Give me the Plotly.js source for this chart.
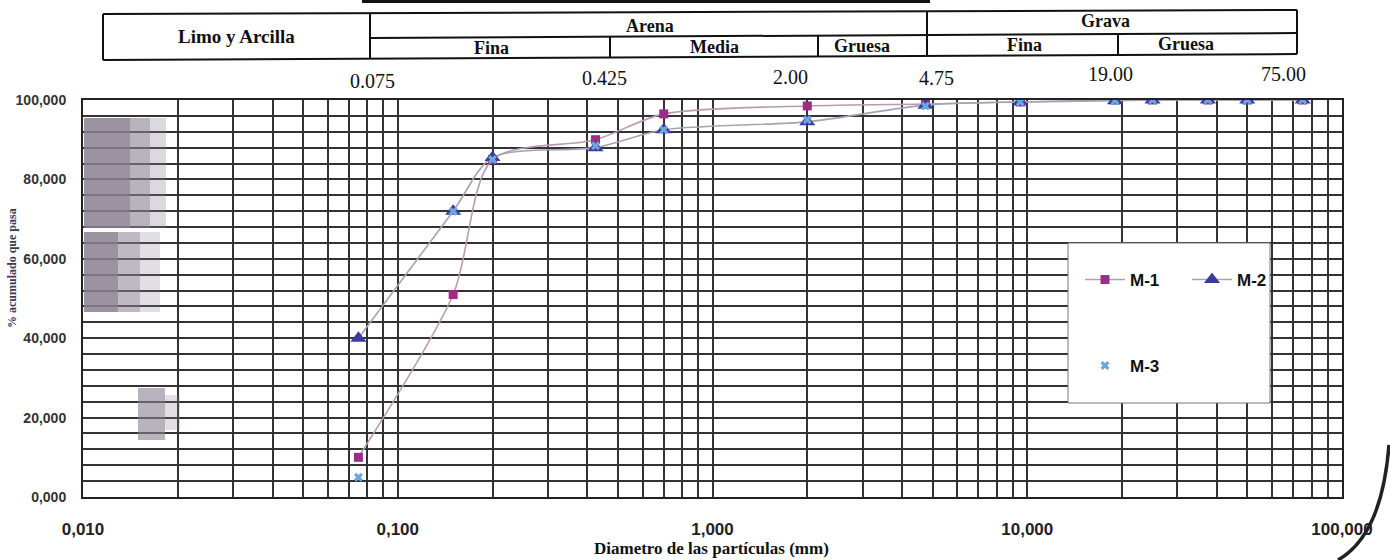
<!DOCTYPE html>
<html><head><meta charset="utf-8">
<script src="https://cdn.plot.ly/plotly-3.0.1.min.js"></script>
<style>html,body{margin:0;padding:0;background:#fff}#chart{width:1390px;height:560px}</style>
</head><body><div id="chart"></div>
<script>
// ---- data ----
const sieveSizes = [0.075, 0.15, 0.2, 0.425, 0.7, 2.0, 4.75, 9.5, 19, 25, 37.5, 50, 75];
const m1 = [10, 51, 85, 90, 96.5, 98.5, 99, 99.5, 100, 100, 100, 100, 100];
const m2 = [40, 72, 85.5, 88, 92.5, 94.5, 98.7, 99.5, 99.8, 100, 100, 100, 100];
const m3 = [5, 72, 85, 88.5, 92.5, 95, 98.5, 99.5, 99.8, 100, 100, 100, 100];
const xTickVals = [0.01, 0.1, 1, 10, 100];
const xTickText = ['0,010', '0,100', '1,000', '10,000', '100,000'];
const yTickVals = [0, 20, 40, 60, 80, 100];
const yTickText = ['0,000', '20,000', '40,000', '60,000', '80,000', '100,000'];
const headerGroups = ['Limo y Arcilla', 'Arena', 'Grava'];
const headerSub = ['Fina', 'Media', 'Gruesa', 'Fina', 'Gruesa'];
const boundaryLabels = ['0.075', '0.425', '2.00', '4.75', '19.00', '75.00'];
const seriesNames = ['M-1', 'M-2', 'M-3'];
const xTitle = 'Diametro de las partículas (mm)';
const yTitle = '% acumulado que pasa';

// ---- layout helpers (pixel -> paper) ----
const L = 83, R = 48, T = 100, B = 63, W = 1390, H = 560;
const PW = W - L - R, PH = H - T - B;
const px = p => (p - L) / PW;
const py = p => (H - B - p) / PH;

// grid values: 1..9 per decade
const xGrid = [];
for (let d = 0.01; d < 99; d *= 10) for (let k = 1; k <= 9; k++) xGrid.push(+(k * d).toPrecision(3));
xGrid.push(100);
const xGridText = xGrid.map(v => {
  const i = xTickVals.findIndex(t => Math.abs(t - v) / t < 1e-6);
  return i >= 0 ? xTickText[i] : '';
});
const yGrid = [];
for (let v = 0; v <= 100; v += 4) yGrid.push(v);
const yGridText = yGrid.map(v => { const i = yTickVals.indexOf(v); return i >= 0 ? yTickText[i] : ''; });

const sans = 'Liberation Sans, Arial, sans-serif';
const serif = 'Liberation Serif, Times New Roman, serif';
const gridCol = '#333333';

const traces = [
  { x: sieveSizes, y: m1, name: seriesNames[0], type: 'scatter', mode: 'lines+markers',
    line: { shape: 'spline', smoothing: 0.8, color: '#b99ab2', width: 1.6 },
    marker: { symbol: 'square', size: 9, color: '#9a2d86' }, legend: 'legend' },
  { x: sieveSizes, y: m2, name: seriesNames[1], type: 'scatter', mode: 'lines+markers',
    line: { shape: 'spline', smoothing: 0.8, color: '#a3a3b6', width: 1.6 },
    marker: { symbol: 'triangle-up', size: 14, color: '#3b3c9a' }, legend: 'legend' },
  { x: sieveSizes, y: m3, name: seriesNames[2], type: 'scatter', mode: 'markers',
    marker: { symbol: 'x', size: 8, color: '#6ea6dc' }, legend: 'legend2' }
];

// header geometry (pixels)
const yTop = x => 14 - (x - 103) * 4 / 1194;
const yMid = x => 38 - (x - 370) * 5 / 927;
const yBot = x => 60 - (x - 103) * 6 / 1194;
const seg = (x0, y0, x1, y1, w) => ({ type: 'line', xref: 'paper', yref: 'paper',
  x0: px(x0), y0: py(y0), x1: px(x1), y1: py(y1), line: { color: '#111', width: w || 2 } });
const noise = (x0, x1, y0, y1, op) => ({ type: 'rect', xref: 'paper', yref: 'paper', layer: 'above',
  x0: px(x0), x1: px(x1), y0: py(y0), y1: py(y1), fillcolor: '#8a8092', opacity: op, line: { width: 0 } });

const pp = (x, y) => px(x) + ',' + py(y);
const shapes = [
  // scan noise blocks on the left
  noise(84, 130, 118, 228, 0.85), noise(130, 150, 118, 228, 0.6), noise(150, 166, 118, 228, 0.3),
  noise(84, 118, 232, 312, 0.85), noise(118, 140, 232, 312, 0.55), noise(140, 160, 232, 312, 0.25),
  noise(138, 165, 388, 440, 0.6), noise(165, 180, 395, 430, 0.25),
  // header table
  seg(103, yTop(103), 1297, yTop(1297)),
  seg(370, yMid(370), 1297, yMid(1297)),
  seg(103, yBot(103), 1297, yBot(1297)),
  seg(103, yTop(103), 103, yBot(103)),
  seg(370, yTop(370), 370, yBot(370)),
  seg(610, yMid(610), 610, yBot(610)),
  seg(818, yMid(818), 818, yBot(818)),
  seg(927, yTop(927), 927, yBot(927)),
  seg(1118, yMid(1118), 1118, yBot(1118)),
  seg(1297, yTop(1297), 1297, yBot(1297)),
  // page border fragments from the scan
  seg(362, 1.5, 930, 1.5, 3),
  { type: 'path', xref: 'paper', yref: 'paper',
    path: 'M' + pp(1389, 445) + ' Q' + pp(1382, 535) + ' ' + pp(1338, 560),
    line: { color: '#222', width: 3.5 } },
  // legend box
  { type: 'rect', xref: 'paper', yref: 'paper', x0: px(1068), x1: px(1270), y0: py(243), y1: py(403),
    fillcolor: '#ffffff', line: { color: '#777', width: 1 }, layer: 'above' }
];

const ann = (x, y, text, size, opts) => Object.assign({ xref: 'paper', yref: 'paper', x: px(x), y: py(y),
  text, showarrow: false, xanchor: 'center', yanchor: 'middle',
  font: { family: serif, size: size, color: '#111' } }, opts || {});
const bold = (size) => ({ font: { family: serif, size: size, color: '#111', weight: 'bold' } });

const annotations = [
  ann(236, 37, headerGroups[0], 19, bold(19)),
  ann(650, 26, headerGroups[1], 18, bold(18)),
  ann(1105, 21, headerGroups[2], 18, bold(18)),
  ann(492, 48, headerSub[0], 18, bold(18)),
  ann(714, 47, headerSub[1], 18, bold(18)),
  ann(862, 46, headerSub[2], 18, bold(18)),
  ann(1024, 45, headerSub[3], 18, bold(18)),
  ann(1186, 44, headerSub[4], 18, bold(18)),
  ann(372, 81, boundaryLabels[0], 20),
  ann(604, 78, boundaryLabels[1], 20),
  ann(790, 77, boundaryLabels[2], 20),
  ann(936, 78, boundaryLabels[3], 20),
  ann(1110, 74, boundaryLabels[4], 20),
  ann(1283, 74, boundaryLabels[5], 20),
  ann(711, 548, xTitle, 17, bold(17)),
  ann(12, 268, yTitle, 12, { textangle: -90, font: { family: serif, size: 12, color: '#3a3a55', weight: 'bold' } })
];

const layout = {
  width: W, height: H,
  margin: { l: L, r: R, t: T, b: B, pad: 0 },
  paper_bgcolor: '#fff', plot_bgcolor: 'rgba(0,0,0,0)',
  xaxis: { type: 'log', range: [-2, 2], tickmode: 'array', tickvals: xGrid, ticktext: xGridText,
    showgrid: true, gridcolor: gridCol, gridwidth: 2, ticks: '', zeroline: false,
    showline: true, linecolor: '#222', linewidth: 2, mirror: true,
    tickfont: { family: sans, size: 17, color: '#222', weight: 'bold' }, ticklabelstandoff: 16, automargin: false },
  yaxis: { range: [0, 100], tickmode: 'array', tickvals: yGrid, ticktext: yGridText,
    showgrid: true, gridcolor: gridCol, gridwidth: 2, ticks: '', zeroline: false,
    showline: true, linecolor: '#222', linewidth: 2, mirror: true,
    tickfont: { family: sans, size: 14, color: '#333', weight: 'bold' }, ticklabelstandoff: 12, automargin: false },
  showlegend: true,
  legend: { orientation: 'h', x: px(1080), y: py(280), xanchor: 'left', yanchor: 'middle',
    bgcolor: 'rgba(0,0,0,0)', borderwidth: 0, entrywidth: 52, itemwidth: 40,
    font: { family: sans, size: 17, color: '#111', weight: 'bold' } },
  legend2: { orientation: 'h', x: px(1080), y: py(366), xanchor: 'left', yanchor: 'middle',
    bgcolor: 'rgba(0,0,0,0)', borderwidth: 0, itemwidth: 40,
    font: { family: sans, size: 17, color: '#111', weight: 'bold' } },
  shapes, annotations
};

Plotly.newPlot('chart', traces, layout, { displayModeBar: false, staticPlot: true });
</script>
</body></html>
